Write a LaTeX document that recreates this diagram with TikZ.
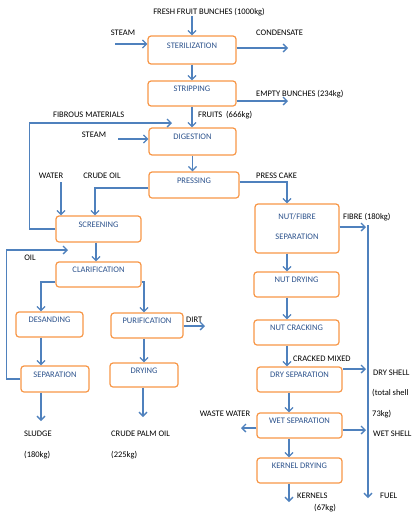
\documentclass[tikz,border=0pt]{standalone}
\usepackage{fontspec}
\setmainfont{Carlito}
\usetikzlibrary{arrows.meta, positioning}
\definecolor{boxorange}{RGB}{247, 150, 70}
\definecolor{flowblue}{RGB}{79, 129, 189}
\definecolor{boxtext}{RGB}{44, 82, 140}

\begin{document}
\begin{tikzpicture}[x=1pt, y=-1pt,
  every node/.style={font=\fontsize{8.5}{10}\selectfont, inner sep=0pt},
  procbox/.style={draw=boxorange, line width=1.2pt, rounded corners=3pt, text=boxtext,
    minimum width=85pt, minimum height=25pt, text height=6pt, text depth=10pt},
  flow/.style={draw=flowblue, line width=1.3pt, -{Straight Barb[length=4pt, width=8pt]}}]
\useasboundingbox (0,0) rectangle (420,517);

% process boxes
\node[procbox, minimum width=88pt, minimum height=28pt] (ster) at (192,50) {STERILIZATION};
\node[procbox, minimum width=88pt] (strip) at (192,93.5) {STRIPPING};
\node[procbox, minimum width=87pt, minimum height=27pt] (dig) at (192.5,141.5) {DIGESTION};
\node[procbox, minimum width=90pt, minimum height=26pt] (press) at (194,185) {PRESSING};
\node[procbox, minimum height=26pt] (screen) at (98.5,229) {SCREENING};
\node[procbox] (clar) at (98.5,274.5) {CLARIFICATION};
\node[procbox, minimum width=67pt] (desand) at (49.5,324.5) {DESANDING};
\node[procbox, minimum width=72pt] (purif) at (147,325.5) {PURIFICATION};
\node[procbox, minimum width=68pt, minimum height=26pt] (sep) at (55,379) {SEPARATION};
\node[procbox, minimum width=68pt, minimum height=24pt] (dry) at (144,375) {DRYING};
\node[procbox, minimum width=84pt, minimum height=49pt, text height=26pt, text depth=5pt, align=center] (nfsep) at (297,228.5) {NUT/FIBRE\\[10pt]SEPARATION};
\node[procbox] (nutdry) at (296.5,284.5) {NUT DRYING};
\node[procbox] (crack) at (296.5,332.5) {NUT CRACKING};
\node[procbox] (drysep) at (299.5,379.5) {DRY SEPARATION};
\node[procbox] (wetsep) at (299.5,425.5) {WET SEPARATION};
\node[procbox] (kdry) at (299.5,470.5) {KERNEL DRYING};

% stream labels
\node (ffb) at (209,12) {FRESH FRUIT BUNCHES (1000kg)};
\node (steamA) at (123,33) {STEAM};
\node[anchor=west] (cond) at (256,33) {CONDENSATE};
\node[anchor=west] (empty) at (256,94) {EMPTY BUNCHES (234kg)};
\node[anchor=west] (fruits) at (198,115) {FRUITS~ (666kg)};
\node[anchor=west] (fibrous) at (53,115) {FIBROUS MATERIALS};
\node (steamB) at (94,135) {STEAM};
\node (water) at (51,176) {WATER};
\node (crude) at (102,176) {CRUDE OIL};
\node[anchor=west] (pcake) at (256,176) {PRESS CAKE};
\node[anchor=west] (fibre) at (343,217) {FIBRE (180kg)};
\node (oil) at (30,258) {OIL};
\node[anchor=west] (dirt) at (186,320) {DIRT};
\node[anchor=west] (cracked) at (293,359) {CRACKED MIXED};
\node[anchor=west] (dryshell) at (373,373) {DRY SHELL};
\node[anchor=west] (total) at (372,393) {(total shell};
\node[anchor=west] (totalkg) at (372,414) {73kg)};
\node (waste) at (225,414) {WASTE WATER};
\node[anchor=west] (wetshell) at (373,434) {WET SHELL};
\node[anchor=west] (sludge) at (24,434) {SLUDGE};
\node[anchor=west] (sludgekg) at (24,455) {(180kg)};
\node[anchor=west] (cpo) at (111,434) {CRUDE PALM OIL};
\node[anchor=west] (cpokg) at (111,455) {(225kg)};
\node[anchor=west] (kernels) at (297,496) {KERNELS};
\node[anchor=west] (kernelskg) at (314,508) {(67kg)};
\node[anchor=west] (fuel) at (380,496) {FUEL};

% free ends
\coordinate (steamin) at (115,44);
\coordinate (condout) at (288,48);
\coordinate (emptyout) at (288,101);
\coordinate (fibin) at (172,123);
\coordinate (steamin2) at (118,139);
\coordinate (waterin) at (61,182);
\coordinate (oilin) at (68,250);
\coordinate (dirtout) at (205,326);
\coordinate (sludgeout) at (41,421);
\coordinate (cpoout) at (143,417);
\coordinate (fibreout) at (366,227);
\coordinate (fueltop) at (368,225);
\coordinate (fuelout) at (368,498);
\coordinate (dryshellout) at (366,369);
\coordinate (wasteout) at (241,428);
\coordinate (wetshellout) at (366,430);
\coordinate (kernelout) at (289,502);

% main line
\draw[flow] (ster.north |- ffb.south) -- (ster.north);
\draw[flow] (steamin) -- (steamin -| ster.west);
\draw[flow] (condout -| ster.east) -- (condout);
\draw[flow] (ster) -- (strip);
\draw[flow] (emptyout -| strip.east) -- (emptyout);
\draw[flow] (strip.south) -- (strip.south |- dig.north);
\draw[flow] (screen.west) -- ++(-26,0) |- (fibin);
\draw[flow] (steamin2) -- (steamin2 -| dig.west);
\draw[flow] (dig.south) -- (dig.south |- press.north);
\draw[flow] (waterin) -- (waterin |- screen.north);
\draw[flow] ([yshift=-3pt]press.west) -| ([xshift=-3.5pt]screen.north);
\draw[flow] ([yshift=3pt]press.east) -| ([xshift=-10pt]nfsep.north);

% oil line
\draw[flow] ([xshift=-2.5pt]screen.south) -- ([xshift=-2.5pt]clar.north);
\draw[flow] (sep.west) -- ++(-14,0) |- (oilin);
\draw[flow] ([yshift=-7.5pt]clar.west) -| ([xshift=-8.5pt]desand.north);
\draw[flow] ([yshift=-7.5pt]clar.east) -| ([xshift=-3pt]purif.north);
\draw[flow] (dirtout -| purif.east) -- (dirtout);
\draw[flow] ([xshift=-8.5pt]desand.south) -- ([xshift=-8.5pt]desand.south |- sep.north);
\draw[flow] ([xshift=-3pt]purif.south) -- ([xshift=-3pt]purif.south |- dry.north);
\draw[flow] (sludgeout |- sep.south) -- (sludgeout);
\draw[flow] (cpoout |- dry.south) -- (cpoout);

% nut line
\draw[flow] (fibreout -| nfsep.east) -- (fibreout);
\draw[flow] (fueltop) -- (fuelout);
\draw[flow] ([xshift=-10pt]nfsep.south) -- ([xshift=-10pt]nfsep.south |- nutdry.north);
\draw[flow] ([xshift=-9.5pt]nutdry.south) -- ([xshift=-9.5pt]nutdry.south |- crack.north);
\draw[flow] ([xshift=-9.5pt]crack.south) -- ([xshift=-9.5pt]crack.south |- drysep.north);
\draw[flow] (dryshellout -| drysep.east) -- (dryshellout);
\draw[flow] ([xshift=-10.5pt]drysep.south) -- ([xshift=-10.5pt]drysep.south |- wetsep.north);
\draw[flow] (wasteout -| wetsep.west) -- (wasteout);
\draw[flow] (wetshellout -| wetsep.east) -- (wetshellout);
\draw[flow] ([xshift=-10.5pt]wetsep.south) -- ([xshift=-10.5pt]wetsep.south |- kdry.north);
\draw[flow] (kernelout |- kdry.south) -- (kernelout);
\end{tikzpicture}
\end{document}
